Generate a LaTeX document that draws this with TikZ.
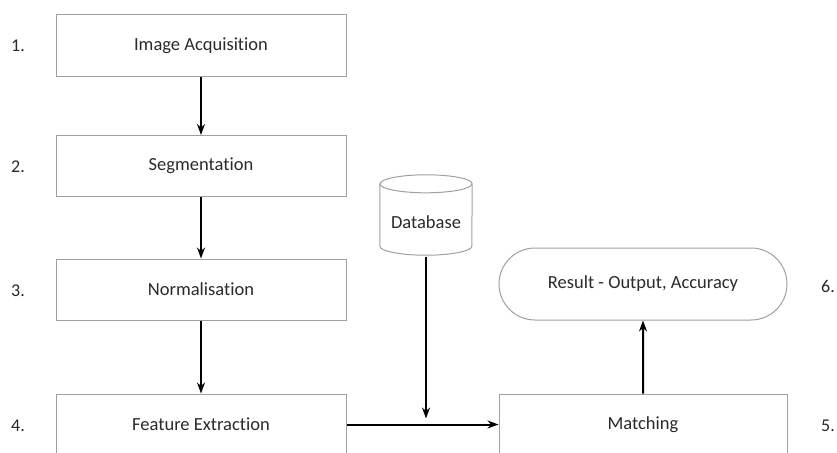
\documentclass[tikz,border=0pt]{standalone}
\usepackage{fontspec}
\setmainfont{Carlito}[Ligatures=NoCommon]
\usetikzlibrary{arrows.meta,shapes.misc,calc}
\definecolor{boxline}{HTML}{A0A0A0}
\definecolor{txt}{HTML}{2A2A2A}
\tikzset{
  stepbox/.style={draw=boxline, line width=1pt, minimum width=290pt, minimum height=61pt, inner sep=0pt, font=\fontsize{18.5}{20}\selectfont, text=txt},
  numlabel/.style={font=\fontsize{18}{20}\selectfont, text=txt},
  flow/.style={line width=2pt, -{Stealth[length=11pt,width=8pt]}},
}
\begin{document}
\begin{tikzpicture}[x=1pt,y=-1pt]
\useasboundingbox (0,0) rectangle (837,452);
\clip (0,0) rectangle (837,452);
\fill[white] (0,0) rectangle (837,452);
\node[stepbox] (ia) at (201,45.5) {Image Acquisition};
\node[stepbox] (seg) at (201,166) {Segmentation};
\node[stepbox] (norm) at (201,289.5) {Normalisation};
\node[stepbox] (fe) at (201,424.5) {Feature Extraction};
\node[stepbox, minimum width=288pt] (match) at (643,424.5) {Matching};
\node[stepbox, minimum width=288pt, minimum height=72pt, rounded rectangle] (res) at (643,284) {Result - Output, Accuracy};
% database cylinder
\node[minimum width=92pt, minimum height=80pt, inner sep=0pt] (db) at (426,215) {};
\draw[boxline, line width=1pt]
  ($(db.north west)+(0,9)$) -- ($(db.south west)+(0,-9)$)
  arc[start angle=180, end angle=360, x radius=46, y radius=-9]
  -- ($(db.north east)+(0,9)$)
  arc[start angle=0, end angle=180, x radius=46, y radius=-9] -- cycle;
\draw[boxline, line width=1pt] ($(db.north west)+(0,9)$) arc[start angle=180, end angle=360, x radius=46, y radius=-9];
\node[font=\fontsize{18.5}{20}\selectfont, text=txt] (dbtext) at ($(db)+(0,7)$) {Database};
\node[numlabel] (n1) at (18,46) {1.};
\node[numlabel] (n2) at (18,167) {2.};
\node[numlabel] (n3) at (18,291) {3.};
\node[numlabel] (n4) at (18,426) {4.};
\node[numlabel] (n5) at (828,426) {5.};
\node[numlabel] (n6) at (828,286) {6.};
\draw[flow] (ia) -- (seg);
\draw[flow] (seg) -- (norm);
\draw[flow] (norm) -- (fe);
\draw[flow] (fe) -- (match);
\coordinate (join) at (db.south |- match.west);
\draw[flow] ($(db.south)+(0,2)$) -- ($(join)+(0,-6)$);
\draw[flow] (match) -- (res);
\end{tikzpicture}
\end{document}
